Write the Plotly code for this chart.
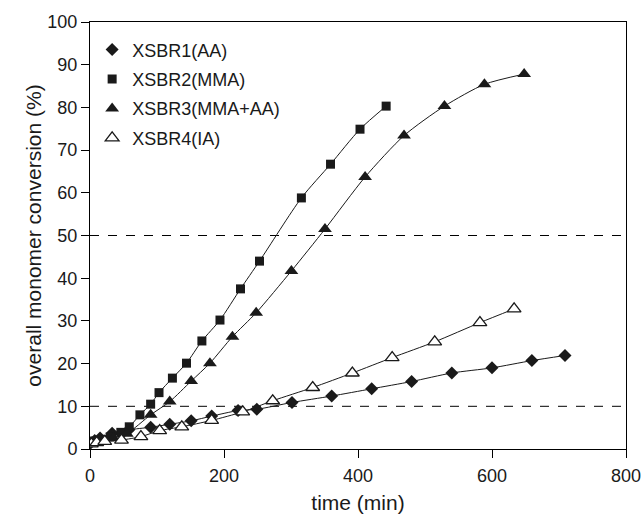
import plotly.graph_objects as go

# XSBR1(AA) - diamonds
t1 = [1, 7, 15, 33, 58, 90.6, 119, 151, 181.6, 221, 249, 301.5, 360.7, 420.4, 480, 540, 600, 659.5, 709]
c1 = [1.4, 2.0, 2.6, 3.7, 4.5, 5.1, 5.8, 6.6, 7.7, 9.0, 9.3, 10.9, 12.4, 14.1, 15.8, 17.8, 19.0, 20.7, 21.9]

# XSBR2(MMA) - squares
t2 = [1.5, 7.5, 18, 30, 46, 58.6, 74.5, 90.5, 103, 123, 144, 167, 194, 224.6, 253, 315.5, 359, 403, 442]
c2 = [1.6, 1.9, 2.1, 2.8, 3.9, 5.2, 8.0, 10.5, 13.2, 16.6, 20.1, 25.3, 30.2, 37.5, 44.0, 58.8, 66.7, 74.9, 80.3]

# XSBR3(MMA+AA) - filled triangles
t3 = [2, 9, 20, 35, 55, 90.5, 119, 151, 179, 212.6, 248, 300.6, 350.7, 410.6, 468.7, 529, 588.7, 648]
c3 = [1.3, 1.7, 2.0, 2.6, 3.6, 8.0, 11.1, 15.9, 20.1, 26.3, 31.9, 41.7, 51.5, 63.7, 73.4, 80.3, 85.4, 87.8]

# XSBR4(IA) - open triangles
t4 = [2, 10, 22, 47, 76, 104, 137, 181.6, 228, 272.7, 332.4, 391.6, 451, 514.5, 582, 633]
c4 = [1.2, 1.5, 1.8, 2.1, 2.9, 4.3, 5.2, 6.7, 8.7, 11.3, 14.4, 17.8, 21.4, 25.1, 29.6, 32.8]

names = ["XSBR1(AA)", "XSBR2(MMA)", "XSBR3(MMA+AA)", "XSBR4(IA)"]
x_ticks = [0, 200, 400, 600, 800]
y_ticks = [0, 10, 20, 30, 40, 50, 60, 70, 80, 90, 100]
ref_levels = [10, 50]

FONT = "Liberation Sans, Arial, sans-serif"
INK = "#1a1a1a"
series = [
    (t1, c1, names[0], dict(symbol="diamond", size=10, color=INK, line=dict(width=0))),
    (t2, c2, names[1], dict(symbol="square", size=9, color=INK, line=dict(width=0))),
    (t3, c3, names[2], dict(symbol="triangle-up", size=12, color=INK, line=dict(width=0))),
    (t4, c4, names[3], dict(symbol="triangle-up", size=12, color="white", line=dict(width=1.3, color=INK))),
]

fig = go.Figure()
for lv in ref_levels:
    fig.add_hline(y=lv, line=dict(color="black", width=1, dash="dash"), layer="below")

for x, y, nm, mk in series:
    fig.add_trace(go.Scatter(x=x, y=y, mode="lines", line=dict(color=INK, width=1, shape="spline", smoothing=0.7),
                             showlegend=False, hoverinfo="skip"))
for x, y, nm, mk in series:
    fig.add_trace(go.Scatter(x=x, y=y, mode="markers", marker=mk, name=nm, legendgroup=nm))

axis_common = dict(showgrid=False, zeroline=False, showline=True, linecolor="black", linewidth=1,
                   mirror=True, ticks="outside", ticklen=8, tickcolor="black", automargin=False,
                   tickfont=dict(family=FONT, size=18, color=INK))
fig.update_xaxes(range=[0, 800], tickvals=x_ticks, ticklabelstandoff=2,
                 title=dict(text="time (min)", font=dict(family=FONT, size=21, color=INK), standoff=10),
                 **axis_common)
fig.update_yaxes(range=[0, 100], tickvals=y_ticks,
                 title=dict(text="overall monomer conversion (%)", font=dict(family=FONT, size=21, color=INK), standoff=0),
                 **axis_common)

fig.update_layout(
    width=643, height=514,
    margin=dict(l=90, r=17, t=22, b=65, autoexpand=False),
    paper_bgcolor="white", plot_bgcolor="white",
    font=dict(family=FONT, color=INK),
    legend=dict(x=0.004, y=0.978, xanchor="left", yanchor="top", bgcolor="rgba(0,0,0,0)",
                font=dict(family=FONT, size=18, color=INK), traceorder="grouped", tracegroupgap=3),
    hovermode=False,
)
fig.write_html("out.html", config={"displayModeBar": False},
               post_script="document.body.style.margin='0';")
